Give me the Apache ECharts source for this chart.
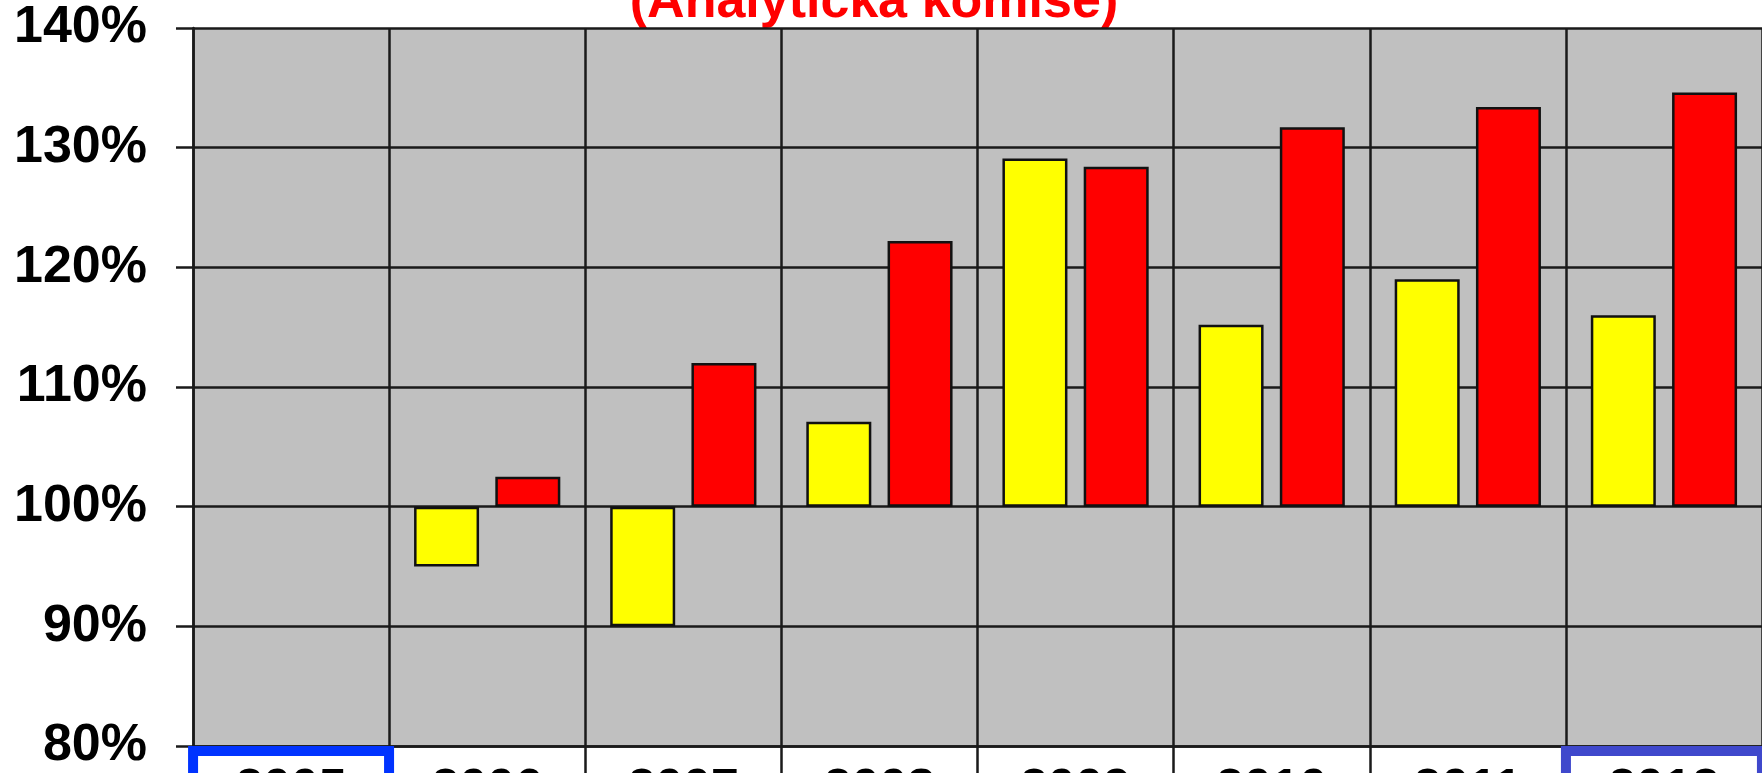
<!DOCTYPE html>
<html>
<head>
<meta charset="utf-8">
<title>Analytická komise</title>
<script src="https://cdn.jsdelivr.net/npm/echarts@6/dist/echarts.min.js"></script>
<style>
  html, body { margin: 0; padding: 0; background: #fff; }
  #chart { width: 1762px; height: 773px; }
</style>
</head>
<body>
<div id="chart"></div>
<script>
// base year 2005 = 100 %
var years = ['2005', '2006', '2007', '2008', '2009', '2010', '2011', '2012'];
var yellowValues = [100, 95.0, 90.0, 107.1, 129.1, 115.2, 119.0, 116.0];
var redValues = [100, 102.5, 112.0, 122.2, 128.4, 131.7, 133.4, 134.6];
var yTicks = [80, 90, 100, 110, 120, 130, 140];
var baseline = 100;

var font = "'Liberation Sans', Arial, sans-serif";
var lineCol = '#1a1a1a';

// bars grow from the 100 % line, so plot the difference to it
function offset (arr) {
  return arr.map(function (v) {
    var d = +(v - baseline).toFixed(2)
    return d === 0 ? { value: d, itemStyle: { borderWidth: 0 } } : d
  })
}

var cell = {
  fontFamily: font,
  fontWeight: 'bold',
  fontSize: 50,
  lineHeight: 50,
  color: '#000',
  width: 196,
  height: 60,
  align: 'center',
  verticalAlign: 'top',
  padding: [9, 0, 0, 0]
}
var richCells = {
  n: cell,
  first: Object.assign({}, cell, { borderColor: '#0033ff', borderWidth: 10 }),
  last: Object.assign({}, cell, { borderColor: '#3f48cc', borderWidth: 10 })
}

var myChart = echarts.init(document.getElementById('chart'))
var option = {
  backgroundColor: '#fff',
  animation: false,
  graphic: [
    {
      type: 'text',
      x: 874,
      y: 29,
      style: {
        text: '(Analytická komise)',
        font: 'bold 52px ' + font,
        fill: '#ff0000',
        textAlign: 'center',
        textVerticalAlign: 'bottom'
      }
    }
  ],
  grid: {
    left: 193,
    right: 0,
    top: 28,
    bottom: 27,
    show: true,
    backgroundColor: '#c0c0c0',
    borderWidth: 0,
    containLabel: false,
    outerBoundsMode: 'none'
  },
  xAxis: {
    type: 'category',
    data: years,
    axisLine: { show: true, onZero: false, lineStyle: { color: lineCol, width: 2.5 } },
    axisTick: { show: true, interval: 0, length: 40, lineStyle: { color: lineCol, width: 2.5 } },
    splitLine: { show: true, interval: 0, lineStyle: { color: lineCol, width: 2.5 } },
    axisLabel: {
      interval: 0,
      margin: 5,
      formatter: function (v, i) {
        var key = i === 0 ? 'first' : (i === years.length - 1 ? 'last' : 'n')
        return '{' + key + '|' + v + '}'
      },
      rich: richCells
    }
  },
  yAxis: {
    type: 'value',
    min: yTicks[0] - baseline,
    max: yTicks[yTicks.length - 1] - baseline,
    interval: yTicks[1] - yTicks[0],
    axisLine: { show: true, lineStyle: { color: lineCol, width: 2.5 } },
    axisTick: { show: true, length: 17, lineStyle: { color: lineCol, width: 2.5 } },
    splitLine: { show: true, lineStyle: { color: lineCol, width: 2.5 } },
    axisLabel: {
      margin: 46,
      fontFamily: font,
      fontWeight: 'bold',
      fontSize: 52,
      color: '#000',
      formatter: function (v) { return (v + baseline) + '%' }
    }
  },
  series: [
    {
      name: 'yellow',
      type: 'bar',
      barWidth: 65,
      barGap: '25%',
      itemStyle: { color: '#ffff00', borderColor: '#111', borderWidth: 2.5 },
      data: offset(yellowValues)
    },
    {
      name: 'red',
      type: 'bar',
      barWidth: 65,
      itemStyle: { color: '#ff0000', borderColor: '#111', borderWidth: 2.5 },
      data: offset(redValues)
    }
  ]
}
option && myChart.setOption(option)
window.addEventListener('resize', function () {
  myChart.resize()
})
</script>
</body>
</html>
